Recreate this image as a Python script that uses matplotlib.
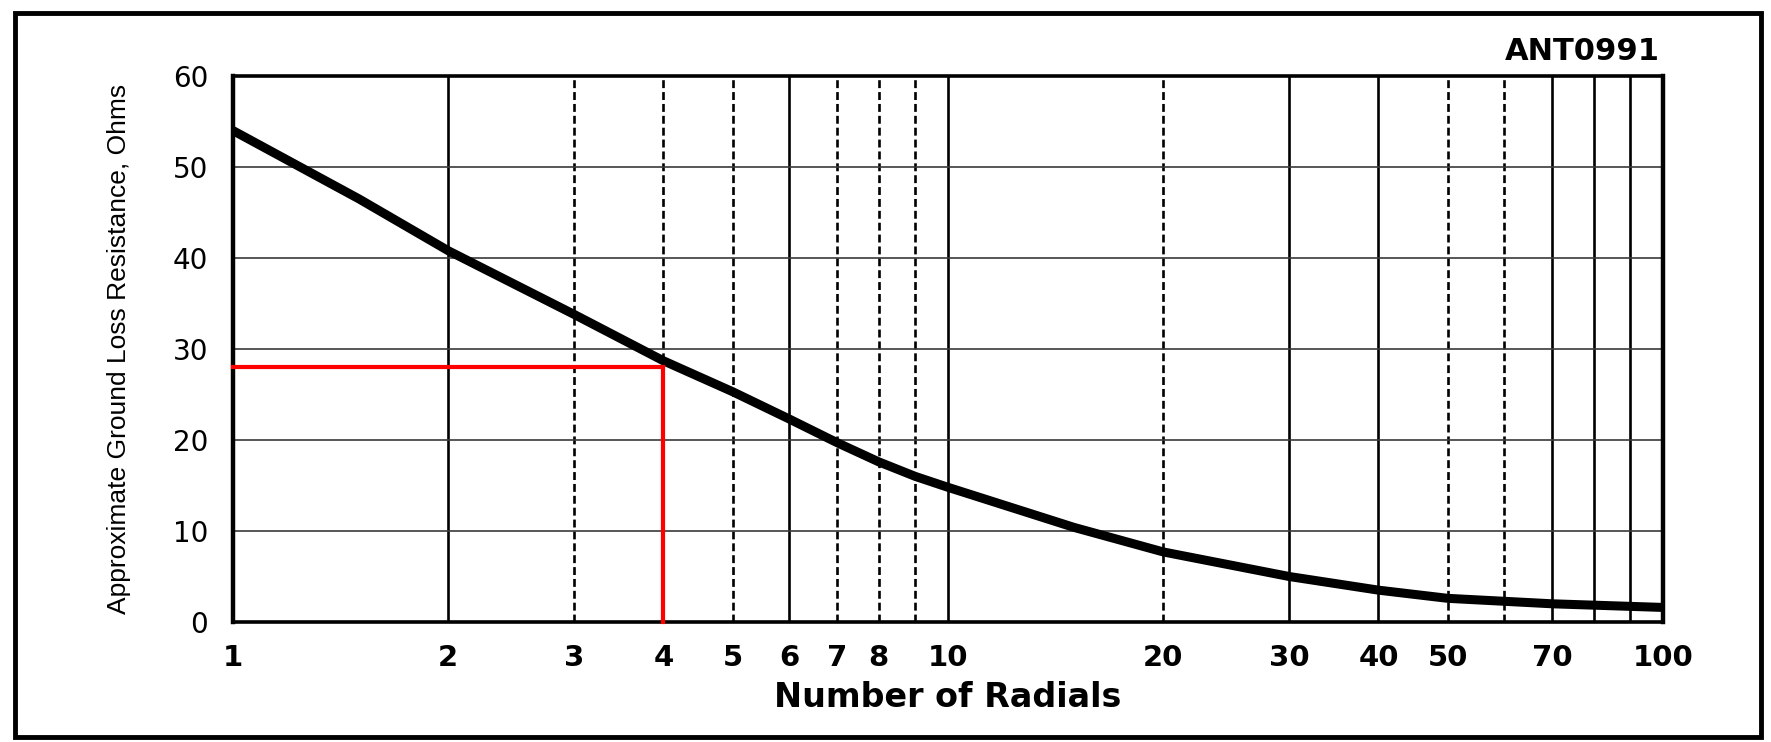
import matplotlib
matplotlib.use('Agg')
import matplotlib.pyplot as plt
from matplotlib.patches import Rectangle

#####################################
# data
radials    = [1, 1.5, 2, 3, 4, 5, 6, 7, 8, 9, 10, 15, 20, 30, 40, 50, 70, 100]
resistance = [54.0, 46.5, 40.8, 33.8, 28.7, 25.3, 22.3, 19.7, 17.6, 16.0, 14.8,
              10.4, 7.7, 5.0, 3.5, 2.6, 2.0, 1.6]

x_ticks     = [1, 2, 3, 4, 5, 6, 7, 8, 10, 20, 30, 40, 50, 70, 100]
x_ticklabel = ['1', '2', '3', '4', '5', '6', '7', '8', '10', '20', '30', '40', '50', '70', '100']
y_ticks     = [0, 10, 20, 30, 40, 50, 60]

grid_x = [2, 3, 4, 5, 6, 7, 8, 9, 10, 20, 30, 40, 50, 60, 70, 80, 90]
grid_y = [10, 20, 30, 40, 50]

# example marked on the chart: 4 radials -> ~28 ohms
mark_x = 4
mark_y = 28
#####################################

# solid / dotted look of each vertical grid line in the scan
dsh = (0, (3, 1.5))
vstyle = {2: '-', 3: dsh, 4: dsh, 5: dsh, 6: '-', 7: dsh, 8: dsh, 9: dsh,
          10: '-', 20: dsh, 30: '-', 40: '-', 50: dsh, 60: dsh, 70: '-',
          80: '-', 90: '-'}

fig = plt.figure(figsize=(17.71, 7.42), dpi=100)
W, H = 1771, 742
ax = fig.add_axes([233/W, 1-622/H, (1663-233)/W, (622-76)/H])

ax.set_xscale('log')
ax.set_xlim(1, 100)
ax.set_ylim(0, 60)

for gx in grid_x:
    ax.axvline(gx, color='black', lw=1.9, ls=vstyle[gx], zorder=1)
for gy in grid_y:
    ax.axhline(gy, color='#3a3a3a', lw=1.2, zorder=1)

ax.plot(radials, resistance, color='black', lw=6.5, solid_capstyle='butt', zorder=3)

# red reading lines
ax.plot([1, mark_x], [mark_y, mark_y], color='red', lw=3, zorder=4, clip_on=False)
ax.plot([mark_x, mark_x], [0, mark_y], color='red', lw=3, zorder=4, clip_on=False)

ax.minorticks_off()
ax.set_xticks(x_ticks)
ax.set_xticklabels(x_ticklabel)
ax.set_yticks(y_ticks)
ax.tick_params(length=0)
ax.tick_params(axis='x', pad=16, labelsize=21)
ax.tick_params(axis='y', pad=18, labelsize=20)
for t in ax.get_xticklabels():
    t.set_fontfamily('DejaVu Sans')
    t.set_fontweight('bold')
for t in ax.get_yticklabels():
    t.set_fontfamily('DejaVu Sans')

for s in ['left', 'right']:
    ax.spines[s].set_linewidth(3.2)
for s in ['top', 'bottom']:
    ax.spines[s].set_linewidth(2.6)

ax.set_xlabel('Number of Radials', fontsize=24, fontweight='bold',
              family=['DejaVu Sans'], labelpad=6)
ax.set_ylabel('Approximate Ground Loss Resistance, Ohms', fontsize=19,
              family=['Liberation Sans Narrow', 'Liberation Sans'], labelpad=30)

fig.text(1660/W, 1-52/H, 'ANT0991', ha='right', va='center', fontsize=22,
         fontweight='bold', family=['DejaVu Sans'])

# scanned page frame
fig.patches.append(Rectangle((15/W, 1-737/H), (1761-15)/W, (737-13)/H,
                             transform=fig.transFigure, fill=False,
                             edgecolor='black', lw=3.5))

fig.savefig('out.png', dpi=100, facecolor='white')
